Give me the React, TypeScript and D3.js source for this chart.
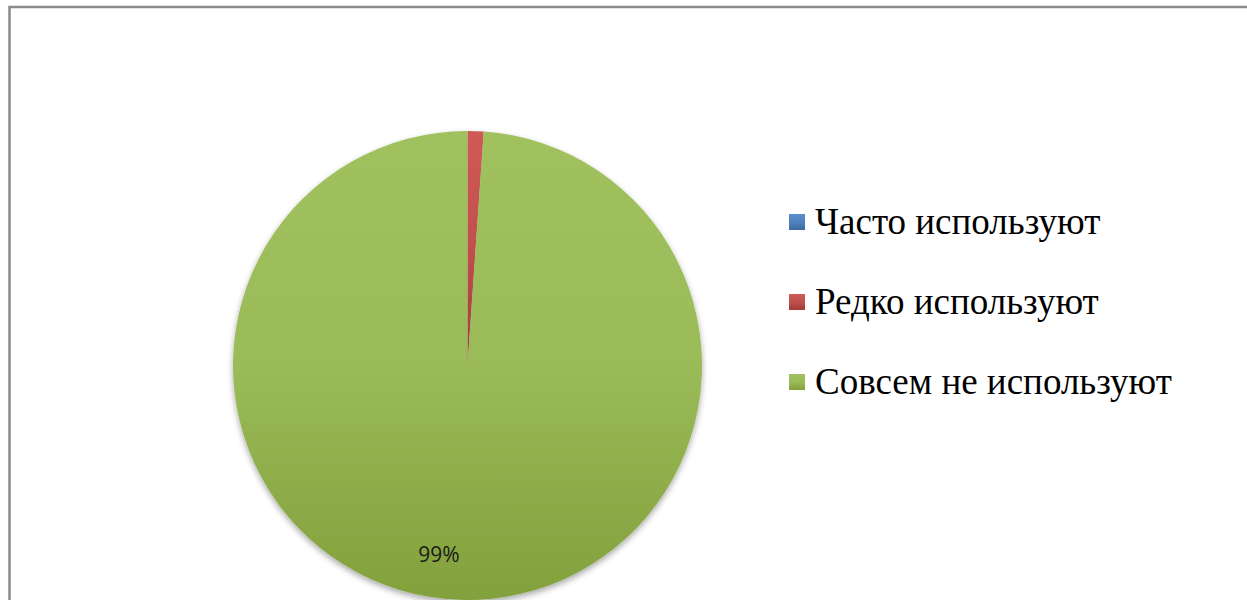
import * as d3 from "d3";
import React from "react";

const categories = ["Часто используют", "Редко используют", "Совсем не используют"];
const values = [0, 1.1, 98.9];
const labels = ["", "", "99%"];
const colors = ["#4F81BD", "#C0504D", "#9BBB59"];
const darkColors = ["#3c6aa3", "#a33b38", "#82a03b"];
const lightColors = ["#5b8fce", "#d05a56", "#a0c15d"];

const width = 1247;
const height = 600;
const cx = 467.5;
const cy = 365.5;
const radius = 234.5;

const App: React.FC = () => {
  const pie = d3
    .pie<number>()
    .sort(null)
    .value((d) => d);
  const arcs = pie(values);
  const arc = d3.arc<d3.PieArcDatum<number>>().innerRadius(0).outerRadius(radius);
  const labelArc = d3
    .arc<d3.PieArcDatum<number>>()
    .innerRadius(radius * 0.805)
    .outerRadius(radius * 0.805);
  const legendY = d3.scalePoint<string>().domain(categories).range([222, 382]);

  return (
    <svg width={width} height={height} style={{ position: "absolute", left: 0, top: 0 }}>
      <defs>
        {colors.map((c, i) => (
          <linearGradient key={i} id={`grad${i}`} x1={0} y1={0} x2={0} y2={1}>
            <stop offset="0%" stopColor={lightColors[i]} />
            <stop offset="50%" stopColor={c} />
            <stop offset="100%" stopColor={darkColors[i]} />
          </linearGradient>
        ))}
        <filter id="shadow" x="-10%" y="-10%" width="120%" height="120%">
          <feGaussianBlur in="SourceAlpha" stdDeviation={3} />
          <feOffset dy={3} result="blur" />
          <feComponentTransfer>
            <feFuncA type="linear" slope={0.35} />
          </feComponentTransfer>
          <feMerge>
            <feMergeNode />
            <feMergeNode in="SourceGraphic" />
          </feMerge>
        </filter>
      </defs>
      <rect width={width} height={height} fill="#ffffff" />
      {/* рамка */}
      <rect x={9.5} y={7} width={1260} height={620} fill="none" stroke="#8a8a8a" strokeWidth={2.5} />

      <g transform={`translate(${cx},${cy})`}>
        <g filter="url(#shadow)">
          {arcs
            .filter((a) => a.value > 0)
            .map((a) => (
              <path key={a.index} d={arc(a) || ""} fill={`url(#grad${a.index})`} />
            ))}
        </g>
        {arcs
          .filter((a) => labels[a.index] !== "")
          .map((a) => {
            const [x, y] = labelArc.centroid(a);
            return (
              <text
                key={a.index}
                x={x}
                y={y}
                dx={-22}
                textAnchor="middle"
                dominantBaseline="central"
                fontSize={21}
                fill="#1a1a1a"
                style={{ fontFamily: '"Open Sans"' }}
              >
                {labels[a.index]}
              </text>
            );
          })}
      </g>

      {/* легенда */}
      {categories.map((c, i) => (
        <g key={c} transform={`translate(789,${legendY(c)})`}>
          <rect x={0} y={-8} width={16} height={16} fill={`url(#grad${i})`} />
          <text x={26} y={12} fontSize={37} fill="#000" style={{ fontFamily: '"Liberation Serif"' }}>
            {c}
          </text>
        </g>
      ))}
    </svg>
  );
};

export default App;
